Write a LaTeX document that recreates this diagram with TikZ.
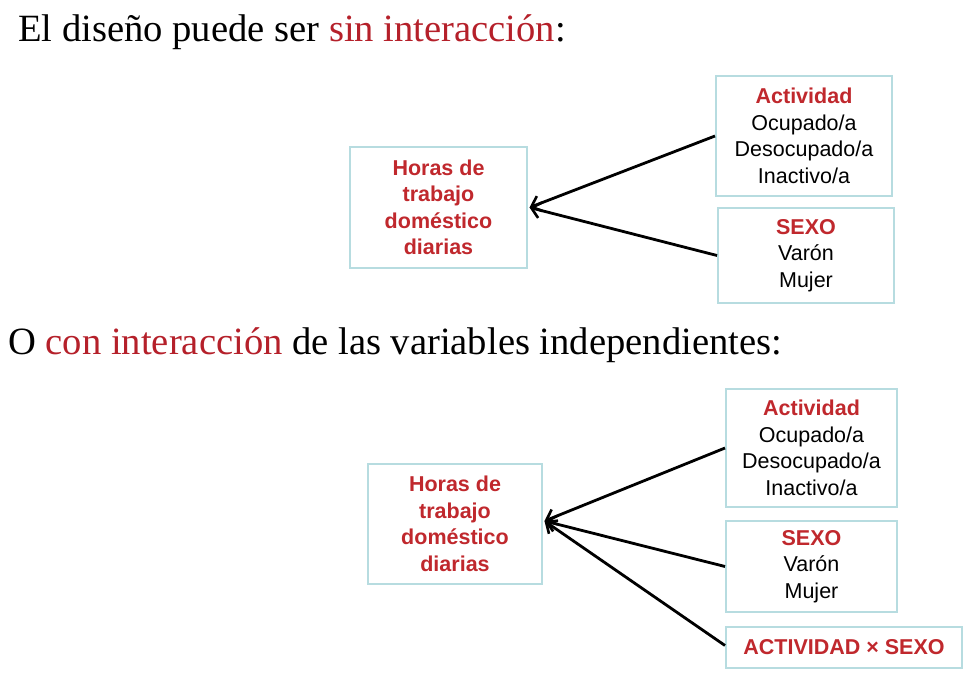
\documentclass[tikz,border=0pt]{standalone}
\usepackage{fontspec}
\setmainfont{Liberation Serif}
\newfontfamily\boxfont{Liberation Sans}
\usetikzlibrary{arrows.meta}
\definecolor{boxline}{HTML}{B7DCE0}
\definecolor{boldred}{HTML}{C0282D}
\definecolor{textred}{HTML}{B5202A}
\tikzset{
  varbox/.style={draw=boxline, line width=2pt, align=center, inner sep=0pt,
    font=\boxfont\fontsize{21.5}{26.5}\selectfont, text=black},
  conn/.style={line width=2.8pt, -{Straight Barb[length=9pt,width=16pt,line width=2.6pt]}},
  heading/.style={anchor=base west, inner sep=0pt, font=\fontsize{38.6}{42}\selectfont}
}
\newcommand{\hd}[1]{\textcolor{boldred}{\bfseries #1}}
\begin{document}
\begin{tikzpicture}[x=1pt,y=-1pt]
\useasboundingbox (0,0) rectangle (980,688);
\fill[white] (0,0) rectangle (980,688);
% headings
\node[heading] (t1) at (18,41) {El diseño puede ser \textcolor{textred}{sin interacción}:};
\node[heading] (t2) at (8,354) {O \textcolor{textred}{con interacción} de las variables independientes:};
% top diagram
\node[varbox, minimum width=177pt, minimum height=121pt] (h1) at (438.5,207.5)
  {\hd{Horas de}\\\hd{trabajo}\\\hd{doméstico}\\\hd{diarias}};
\node[varbox, minimum width=176pt, minimum height=120pt] (a1) at (804,136)
  {\hd{Actividad}\\Ocupado/a\\Desocupado/a\\Inactivo/a};
\node[varbox, minimum width=176pt, minimum height=95pt] (s1) at (806,255.5)
  {\hd{SEXO}\\Varón\\Mujer};
\coordinate (p1) at ([xshift=1.5pt]h1.east);
\draw[conn] (a1.west) -- (p1);
\draw[conn] (s1.west) -- (p1);
% bottom diagram
\node[varbox, minimum width=174pt, minimum height=120pt] (h2) at (455,524)
  {\hd{Horas de}\\\hd{trabajo}\\\hd{doméstico}\\\hd{diarias}};
\node[varbox, minimum width=171pt, minimum height=118pt] (a2) at (811.5,448)
  {\hd{Actividad}\\Ocupado/a\\Desocupado/a\\Inactivo/a};
\node[varbox, minimum width=171pt, minimum height=91pt] (s2) at (811.5,566.5)
  {\hd{SEXO}\\Varón\\Mujer};
\node[varbox, minimum width=236pt, minimum height=41pt] (x2) at (844,647.5)
  {\hd{ACTIVIDAD × SEXO}};
\coordinate (p2) at ([xshift=1.5pt,yshift=3pt]h2.east);
\draw[conn] (a2.west) -- (p2);
\draw[conn] (s2.west) -- (p2);
\draw[conn] ([yshift=2pt]x2.west) -- (p2);
\end{tikzpicture}
\end{document}
